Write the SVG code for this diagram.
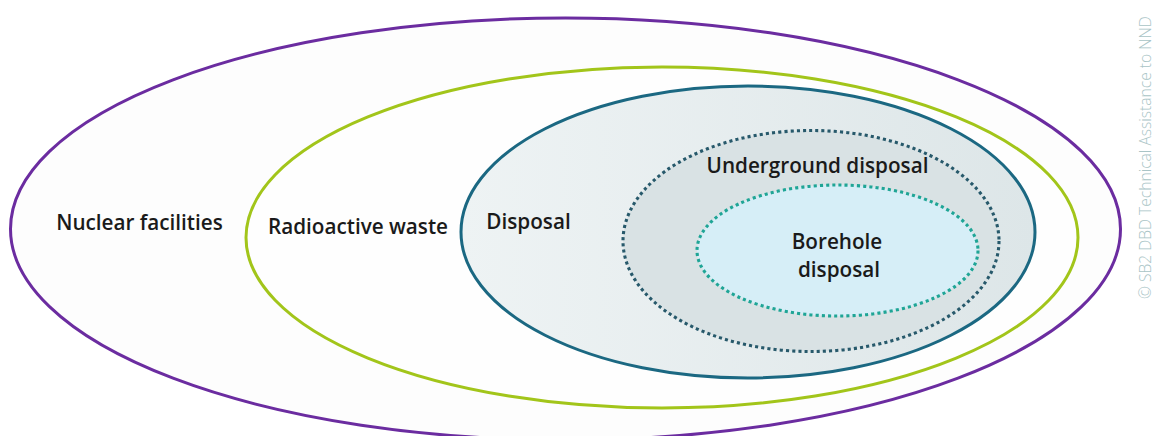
<svg xmlns="http://www.w3.org/2000/svg" width="1157" height="436" viewBox="0 0 1157 436">
  <defs>
    <linearGradient id="disposalFill" x1="0" y1="0" x2="1" y2="0">
      <stop offset="0" stop-color="#eef3f4"/>
      <stop offset="1" stop-color="#dde6e8"/>
    </linearGradient>
  </defs>
  <style>
    .label { font-family: "Open Sans", "Liberation Sans", sans-serif; font-weight: 600; font-size: 20.7px; fill: #1a1a1a; }
    .ring { stroke-width: 3; }
    .dotted { stroke-width: 3.1; stroke-dasharray: 3.1 3.1; }
    .credit { font-family: "Open Sans", "Liberation Sans", sans-serif; font-weight: 300; font-size: 15.6px; fill: #a9c4c6; }
  </style>

  <rect width="1157" height="436" fill="#ffffff"/>

  <!-- nested scopes, outermost first -->
  <g id="nuclear-facilities">
    <ellipse class="ring" cx="565.5" cy="229" rx="555" ry="211" fill="#fdfdfd" stroke="#6b2ca0"/>
    <text class="label" x="139.5" y="230" text-anchor="middle">Nuclear facilities</text>
  </g>

  <g id="radioactive-waste">
    <ellipse class="ring" cx="662" cy="237.5" rx="416" ry="170.5" fill="#fefefe" stroke="#a2c51a"/>
    <text class="label" x="358" y="234" text-anchor="middle">Radioactive waste</text>
  </g>

  <g id="disposal">
    <ellipse class="ring" cx="748" cy="232" rx="287" ry="146" fill="url(#disposalFill)" stroke="#1b6882"/>
    <text class="label" x="528.5" y="229" text-anchor="middle">Disposal</text>
  </g>

  <g id="underground-disposal">
    <ellipse class="dotted" cx="811" cy="241" rx="188" ry="110.5" fill="#d9e2e4" stroke="#27596b"/>
    <text class="label" x="817.5" y="173" text-anchor="middle">Underground disposal</text>
  </g>

  <g id="borehole-disposal">
    <ellipse class="dotted" cx="837.5" cy="250.5" rx="140.5" ry="65.5" fill="#d6eef7" stroke="#1fa596"/>
    <text class="label" x="837" y="249" text-anchor="middle">Borehole</text>
    <text class="label" x="839" y="277" text-anchor="middle">disposal</text>
  </g>

  <g id="connectors"/>

  <!-- vertical credit line on the right margin -->
  <text class="credit" transform="translate(1151 299) rotate(-90)" x="0" y="0">© SB2 DBD Technical Assistance to NND</text>
</svg>
